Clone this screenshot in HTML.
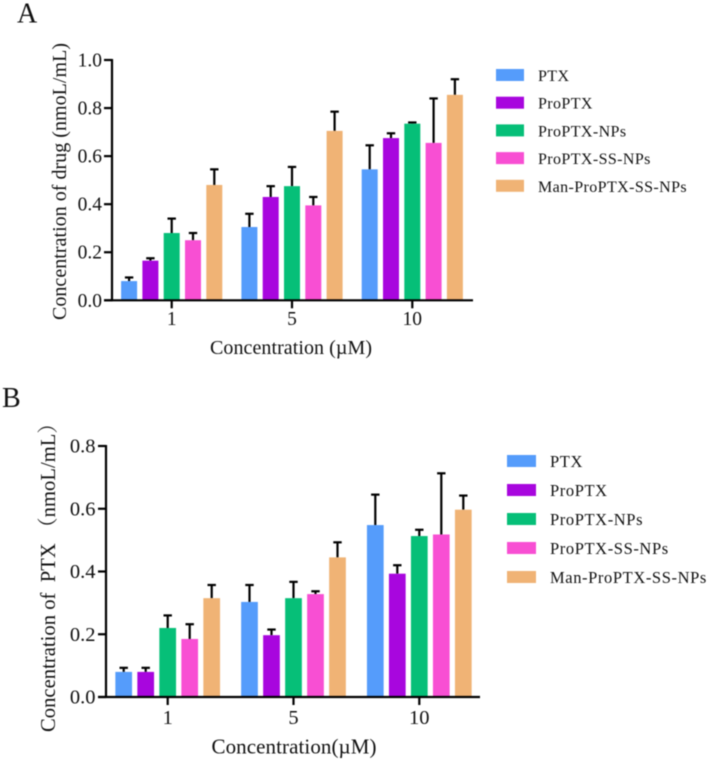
<!DOCTYPE html>
<html lang="en">
<head>
<meta charset="utf-8">
<title>Drug concentration charts</title>
<style>
html,body{margin:0;padding:0;background:#fff;width:709px;height:760px;overflow:hidden}
svg{display:block;filter:blur(0.5px)}
text{font-family:"Liberation Serif","Noto Serif CJK SC",serif;fill:#111}
</style>
</head>
<body>
<svg id="figure" xmlns="http://www.w3.org/2000/svg" width="709" height="760" viewBox="0 0 709 760">
  <text x="17" y="22.5" font-size="28">A</text>
  <text x="2" y="407" font-size="28">B</text>
  <g id="chartA"></g>
  <g id="chartB"></g>
  <text transform="translate(66,320) rotate(-90)" font-size="20" textLength="277" lengthAdjust="spacing">Concentration of drug (nmoL/mL)</text>
  <text x="210" y="354" font-size="20" textLength="162" lengthAdjust="spacing">Concentration (µM)</text>
  <text transform="translate(55,732) rotate(-90)" font-size="20.6" xml:space="preserve" textLength="319" lengthAdjust="spacing">Concentration of  PTX （nmoL/mL）</text>
  <text x="211.5" y="753.5" font-size="21" textLength="165" lengthAdjust="spacing">Concentration(µM)</text>
</svg>
<script>
const categories = ['1', '5', '10'];
const seriesNames = ['PTX', 'ProPTX', 'ProPTX-NPs', 'ProPTX-SS-NPs', 'Man-ProPTX-SS-NPs'];
const seriesColors = ['#559cfb', '#a806de', '#06bf78', '#f84fd3', '#f0b375'];

const ticksA = ['0.0', '0.2', '0.4', '0.6', '0.8', '1.0'];
const ptxA = [0.08, 0.305, 0.545];
const proPtxA = [0.165, 0.43, 0.675];
const npsA = [0.28, 0.475, 0.735];
const ssNpsA = [0.25, 0.395, 0.655];
const manA = [0.48, 0.705, 0.855];
const ptxErrA = [0.015, 0.055, 0.1];
const proPtxErrA = [0.01, 0.045, 0.02];
const npsErrA = [0.06, 0.08, 0.005];
const ssNpsErrA = [0.03, 0.035, 0.185];
const manErrA = [0.065, 0.08, 0.065];

const ticksB = ['0.0', '0.2', '0.4', '0.6', '0.8'];
const ptxB = [0.08, 0.303, 0.548];
const proPtxB = [0.08, 0.197, 0.393];
const npsB = [0.22, 0.315, 0.513];
const ssNpsB = [0.185, 0.328, 0.518];
const manB = [0.315, 0.445, 0.597];
const ptxErrB = [0.013, 0.054, 0.097];
const proPtxErrB = [0.013, 0.018, 0.027];
const npsErrB = [0.04, 0.052, 0.02];
const ssNpsErrB = [0.047, 0.009, 0.195];
const manErrB = [0.042, 0.048, 0.045];

const NS = 'http://www.w3.org/2000/svg';

function make(parent, tag, attrs, content) {
  const el = document.createElementNS(NS, tag);
  for (const k in attrs) el.setAttribute(k, attrs[k]);
  if (content !== undefined) el.textContent = content;
  parent.appendChild(el);
  return el;
}

function drawChart(root, cfg, series, errors, ticks) {
  const yScale = v => cfg.y0 - (v / cfg.yMax) * (cfg.y0 - cfg.yTop);
  const xCenter = i => cfg.groupX0 + i * cfg.groupGap;

  series.forEach((vals, s) => {
    vals.forEach((v, c) => {
      const cx = xCenter(c) + (s - 2) * cfg.step;
      const top = yScale(v);
      const errTop = yScale(v + errors[s][c]);

      const stem = make(root, 'line', {x1: cx, x2: cx, y1: top, y2: errTop, stroke: '#000', 'stroke-width': 2.2});
      
      

      const cap = make(root, 'line', {x1: cx - 4.2, x2: cx + 4.2, y1: errTop, y2: errTop, stroke: '#000', 'stroke-width': 2.2});
      
      

      const bar = make(root, 'rect', {x: cx - cfg.barW / 2, y: top, width: cfg.barW, height: cfg.y0 - top, fill: seriesColors[s]});
      
      
    });
  });

  const yAxis = make(root, 'line', {x1: cfg.axisX, x2: cfg.axisX, y1: cfg.yTop - 1, y2: cfg.y0 + 1, stroke: '#000', 'stroke-width': 2.2});
  
  

  const xAxis = make(root, 'line', {x1: cfg.axisX - 8, x2: cfg.xEnd, y1: cfg.y0, y2: cfg.y0, stroke: '#000', 'stroke-width': 2.2});
  
  

  ticks.forEach(t => {
    const y = yScale(parseFloat(t));
    const tick = make(root, 'line', {x1: cfg.axisX - 8, x2: cfg.axisX, y1: y, y2: y, stroke: '#000', 'stroke-width': 2.2});
    
    

    const label = make(root, 'text', {x: cfg.axisX - cfg.tickPad, y: y + 6.5, 'font-size': cfg.tickFont, 'text-anchor': 'end'}, t);
    
    
  });

  categories.forEach((cat, c) => {
    const x = xCenter(c);
    const tick = make(root, 'line', {x1: x, x2: x, y1: cfg.y0, y2: cfg.y0 + 8, stroke: '#000', 'stroke-width': 2.2});
    
    

    const label = make(root, 'text', {x: x, y: cfg.xLabelY, 'font-size': cfg.tickFont, 'text-anchor': 'middle'}, cat);
    
    
  });

  seriesNames.forEach((name, s) => {
    const y = cfg.legendY + s * cfg.legendGap;
    const swatch = make(root, 'rect', {x: cfg.legendX, y: y, width: cfg.swatchW, height: 12, fill: seriesColors[s]});
    
    

    const label = make(root, 'text', {x: cfg.legendTextX, y: y + 12, 'font-size': cfg.legendFont, 'letter-spacing': cfg.legendSpacing}, name);
    
    
  });
}

drawChart(document.getElementById('chartA'), {
  y0: 300.3, yTop: 60, yMax: 1.0, axisX: 112, xEnd: 473,
  groupX0: 171.7, groupGap: 120.3, step: 21.3, barW: 16,
  tickFont: 19.5, tickPad: 10, xLabelY: 325,
  legendX: 496, legendY: 69, legendGap: 27.7, swatchW: 28, legendTextX: 538,
  legendFont: 16, legendSpacing: 0.4
}, [ptxA, proPtxA, npsA, ssNpsA, manA], [ptxErrA, proPtxErrA, npsErrA, ssNpsErrA, manErrA], ticksA);

drawChart(document.getElementById('chartB'), {
  y0: 697, yTop: 446, yMax: 0.8, axisX: 106, xEnd: 480,
  groupX0: 167.7, groupGap: 125.8, step: 22, barW: 16.7,
  tickFont: 20.5, tickPad: 10.5, xLabelY: 724,
  legendX: 507, legendY: 455, legendGap: 29, swatchW: 29, legendTextX: 550,
  legendFont: 16.5, legendSpacing: 0.6
}, [ptxB, proPtxB, npsB, ssNpsB, manB], [ptxErrB, proPtxErrB, npsErrB, ssNpsErrB, manErrB], ticksB);
</script>
</body>
</html>
